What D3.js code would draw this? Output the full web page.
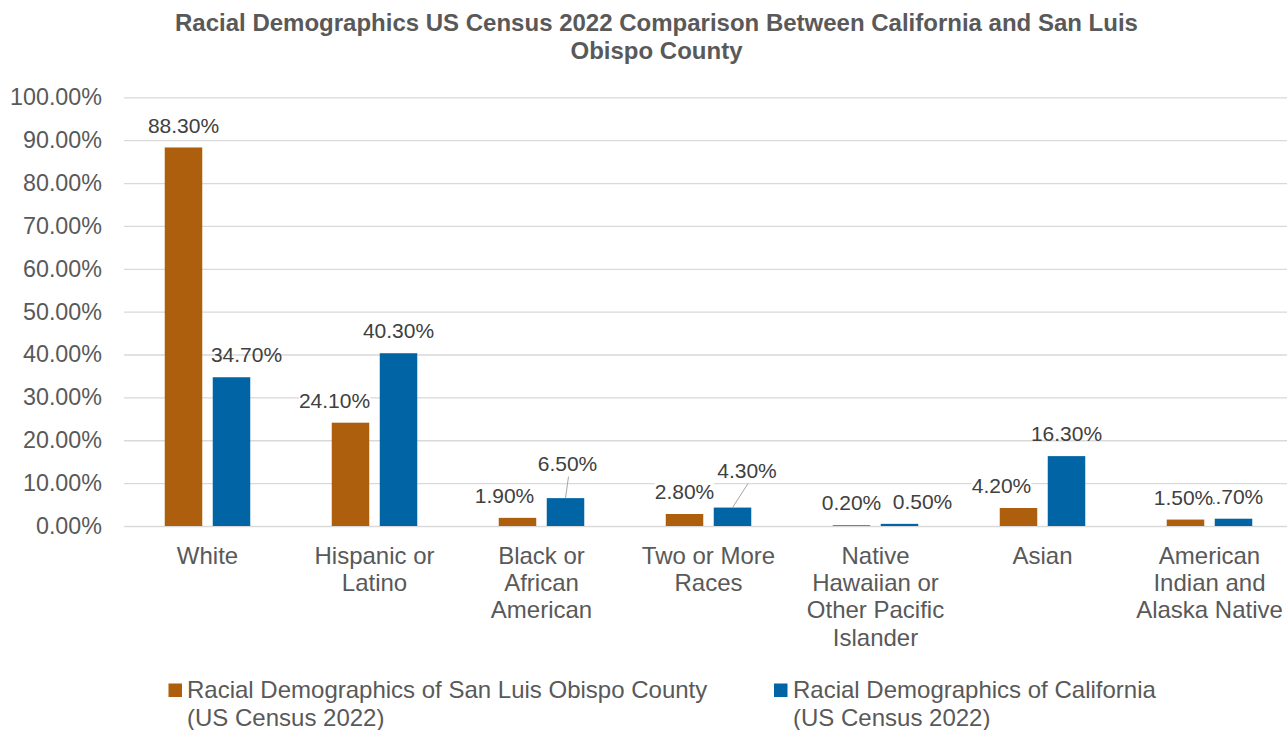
<!DOCTYPE html>
<html>
<head>
<meta charset="utf-8">
<script src="https://cdn.jsdelivr.net/npm/d3@7"></script>
<style>
  html, body { margin: 0; padding: 0; background: #fff; }
  svg { display: block; font-family: "Liberation Sans", Arial, sans-serif; }
</style>
</head>
<body>
<svg id="chart" width="1287" height="730"></svg>
<script>
// Race / ethnicity categories (line breaks as shown under the axis)
const categories = [
  ["White"],
  ["Hispanic or", "Latino"],
  ["Black or", "African", "American"],
  ["Two or More", "Races"],
  ["Native", "Hawaiian or", "Other Pacific", "Islander"],
  ["Asian"],
  ["American", "Indian and", "Alaska Native"]
];
const categoryKeys = ["White", "Hispanic", "Black", "TwoPlus", "NHPI", "Asian", "AIAN"];

// Share of population, percent
const sloValues = [88.3, 24.1, 1.9, 2.8, 0.2, 4.2, 1.5];
const caValues  = [34.7, 40.3, 6.5, 4.3, 0.5, 16.3, 1.7];

const seriesNames = [
  ["Racial Demographics of San Luis Obispo County", "(US Census 2022)"],
  ["Racial Demographics of California", "(US Census 2022)"]
];
const yTicks = [0, 10, 20, 30, 40, 50, 60, 70, 80, 90, 100];

const titleLines = [
  "Racial Demographics US Census 2022 Comparison Between California and San Luis",
  "Obispo County"
];

// ---- layout / style ----
const colors = ["#AD5F0D", "#0064A5"];
const plot = { left: 124, right: 1293, top: 97.3, bottom: 526 };
const svg = d3.select("#chart");

const x0 = d3.scaleBand().domain(categoryKeys).range([plot.left, plot.right]).paddingInner(0).paddingOuter(0);
const x1 = d3.scaleBand().domain([0, 1]).range([40.75, 126.25]).paddingInner(0.21875).paddingOuter(0);
const y = d3.scaleLinear().domain([0, 100]).range([plot.bottom, plot.top]);

// title
svg.append("g").selectAll("text").data(titleLines).join("text")
  .attr("x", 656.5)
  .attr("y", (d, i) => 30.5 + i * 28)
  .attr("text-anchor", "middle")
  .attr("font-size", 24)
  .attr("font-weight", "bold")
  .attr("fill", "#595959")
  .text(d => d);

// y axis (gridlines + labels)
const yAxis = d3.axisLeft(y)
  .tickValues(yTicks)
  .tickSize(-(1287 - plot.left))
  .tickPadding(22)
  .tickFormat(d => d3.format(".2f")(d) + "%");
const gy = svg.append("g").attr("transform", `translate(${plot.left},0)`).call(yAxis);
gy.select(".domain").remove();
gy.selectAll(".tick line").attr("stroke", "#d9d9d9").attr("stroke-width", 1.3);
gy.selectAll(".tick text")
  .attr("font-size", 23.3)
  .attr("fill", "#595959")
  .attr("font-family", "Liberation Sans, Arial, sans-serif");

// bars
const rows = categoryKeys.map((k, i) => ({ key: k, vals: [sloValues[i], caValues[i]] }));
const groups = svg.append("g").selectAll("g").data(rows).join("g")
  .attr("transform", d => `translate(${x0(d.key)},0)`);
groups.selectAll("rect").data(d => d.vals.map((v, s) => ({ v, s }))).join("rect")
  .attr("x", d => x1(d.s))
  .attr("width", x1.bandwidth())
  .attr("y", d => y(d.v))
  .attr("height", d => y(0) - y(d.v))
  .attr("fill", d => colors[d.s]);

// category labels
const gx = svg.append("g");
categoryKeys.forEach((k, i) => {
  const t = gx.append("text")
    .attr("x", x0(k) + x0.bandwidth() / 2)
    .attr("y", 563.5)
    .attr("text-anchor", "middle")
    .attr("font-size", 24)
    .attr("fill", "#595959");
  categories[i].forEach((line, j) => {
    t.append("tspan").attr("x", x0(k) + x0.bandwidth() / 2).attr("dy", j === 0 ? 0 : 27.4).text(line);
  });
});

// data label nudges (dx, dy) relative to the default position above each bar
const labelNudge = [
  { White: [0, 0], Hispanic: [-16, 0], Black: [-13, 0], TwoPlus: [0, 0], NHPI: [0, 0], Asian: [-17, 0], AIAN: [-2, 0] },
  { White: [15, 0], Hispanic: [0, 0], Black: [2, -12.5], TwoPlus: [14.5, -15], NHPI: [23, 0], Asian: [0, 0], AIAN: [0, 0] }
];
const pctFmt = v => d3.format(".2f")(v) + "%";
const gl = svg.append("g");
// California labels first, county labels (with white fill) on top
[1, 0].forEach(s => {
  const vals = s === 0 ? sloValues : caValues;
  categoryKeys.forEach((k, i) => {
    const v = vals[i];
    const bx = x0(k) + x1(s) + x1.bandwidth() / 2;
    const by = y(v);
    const [dx, dy] = labelNudge[s][k];
    const cx = bx + dx, cy = by - 22.5 + dy;
    if (dy !== 0) {
      gl.append("line")
        .attr("x1", bx).attr("y1", by)
        .attr("x2", cx + 1).attr("y2", cy + 13.5)
        .attr("stroke", "#a6a6a6").attr("stroke-width", 1);
    }
    const g = gl.append("g");
    const t = g.append("text")
      .attr("x", cx).attr("y", cy).attr("dy", "0.36em")
      .attr("text-anchor", "middle")
      .attr("font-size", 21)
      .attr("fill", "#404040")
      .text(pctFmt(v));
    if (s === 0) {
      const bb = t.node().getBBox();
      g.insert("rect", "text")
        .attr("x", bb.x).attr("y", bb.y + 2)
        .attr("width", bb.width).attr("height", bb.height - 4)
        .attr("fill", "#fff");
    }
  });
});

// legend
const legendPos = [{ x: 168.5, tx: 187 }, { x: 774, tx: 793 }];
seriesNames.forEach((lines, s) => {
  const g = svg.append("g");
  g.append("rect").attr("x", legendPos[s].x).attr("y", 683.5).attr("width", 13.5).attr("height", 13.5).attr("fill", colors[s]);
  const t = g.append("text").attr("x", legendPos[s].tx).attr("y", 697.5).attr("font-size", 24).attr("fill", "#595959");
  lines.forEach((line, j) => {
    t.append("tspan").attr("x", legendPos[s].tx).attr("dy", j === 0 ? 0 : 28).text(line);
  });
});
</script>
</body>
</html>
